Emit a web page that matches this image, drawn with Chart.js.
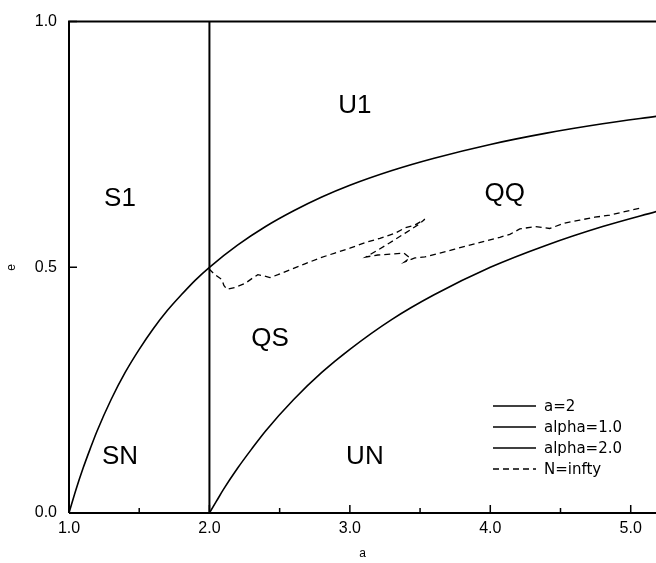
<!DOCTYPE html>
<html lang="en">
<head>
  <meta charset="UTF-8">
  <title>Phase diagram a - e</title>
  <style>
    body {
      margin: 0;
      padding: 0;
      background: #fff;
    }
    .chart-container {
      width: 656px;
      height: 563px;
    }
  </style>
</head>
<body>

<div class="chart-container">
  <canvas id="phaseChart"></canvas>
</div>

<script src="https://cdn.jsdelivr.net/npm/chart.js"></script>
<script>
  // a = 2 vertical line
  const lineA = [2.0, 2.0];
  const lineE = [0.0, 1.0];

  // alpha = 1.0 boundary
  const alpha1A = [1.0, 1.05, 1.1, 1.15, 1.2, 1.3, 1.4, 1.5, 1.6, 1.7, 1.8, 1.9, 2.0, 2.2, 2.4, 2.6, 2.8, 3.0, 3.3, 3.6, 4.0, 4.4, 4.8, 5.2];
  const alpha1E = [0, 0.048, 0.091, 0.130, 0.167, 0.231, 0.286, 0.333, 0.375, 0.412, 0.444, 0.474, 0.5, 0.545, 0.583, 0.615, 0.643, 0.667, 0.697, 0.722, 0.75, 0.773, 0.792, 0.808];

  // alpha = 2.0 boundary
  const alpha2A = [2.0, 2.05, 2.1, 2.2, 2.3, 2.4, 2.6, 2.8, 3.0, 3.3, 3.6, 4.0, 4.4, 4.8, 5.2];
  const alpha2E = [0, 0.024, 0.048, 0.091, 0.130, 0.167, 0.231, 0.286, 0.333, 0.394, 0.444, 0.5, 0.545, 0.583, 0.615];

  // N = infty (numerical, noisy)
  const infA = [1.996, 2.039, 2.089, 2.103, 2.125, 2.181, 2.253, 2.302, 2.345, 2.381, 2.431, 2.488, 2.573, 2.680, 2.786, 2.893, 3.000, 3.107, 3.214, 3.320, 3.391, 3.463, 3.534,
                3.484, 3.391, 3.285, 3.199, 3.114, 3.199, 3.299, 3.384, 3.427, 3.391, 3.463, 3.534, 3.641, 3.747, 3.854, 3.961, 4.068, 4.139, 4.210, 4.317, 4.423, 4.530, 4.637, 4.744, 4.851, 4.936, 5.064];
  const infE = [0.497, 0.485, 0.475, 0.463, 0.455, 0.459, 0.467, 0.477, 0.485, 0.483, 0.479, 0.485, 0.495, 0.507, 0.519, 0.529, 0.539, 0.550, 0.559, 0.569, 0.580, 0.586, 0.598,
                0.586, 0.569, 0.550, 0.535, 0.521, 0.525, 0.527, 0.529, 0.519, 0.511, 0.519, 0.521, 0.529, 0.537, 0.545, 0.553, 0.561, 0.567, 0.578, 0.583, 0.579, 0.590, 0.596, 0.602, 0.606, 0.612, 0.620];

  const xTicks = [1, 2, 3, 4, 5];
  const xMinor = [1.5, 2.5, 3.5, 4.5];
  const yTicks = [0, 0.5, 1];

  // region labels
  const regionNames = ['S1', 'U1', 'QQ', 'QS', 'SN', 'UN'];
  const regionA = [1.363, 3.036, 4.103, 2.431, 1.363, 3.107];
  const regionE = [0.640, 0.829, 0.650, 0.354, 0.115, 0.115];

  function pts(xs, ys) {
    return xs.map((x, i) => ({ x: x, y: ys[i] }));
  }

  const FONT = '"Liberation Sans", Arial, sans-serif';

  // frame, inward ticks, region labels and legend
  const decorPlugin = {
    id: 'decor',
    afterDraw(chart) {
      const c = chart.ctx;
      const xs = chart.scales.x, ys = chart.scales.y;
      const area = chart.chartArea;
      c.save();
      c.strokeStyle = '#000';
      c.lineWidth = 2;
      c.beginPath();
      c.moveTo(area.left, area.bottom);
      c.lineTo(area.left, area.top);
      c.lineTo(area.right, area.top);
      c.moveTo(area.left, area.bottom);
      c.lineTo(area.right, area.bottom);
      c.stroke();

      c.lineWidth = 1.5;
      c.beginPath();
      xTicks.forEach(v => {
        const px = xs.getPixelForValue(v);
        c.moveTo(px, area.bottom); c.lineTo(px, area.bottom - 8);
      });
      xMinor.forEach(v => {
        const px = xs.getPixelForValue(v);
        c.moveTo(px, area.bottom); c.lineTo(px, area.bottom - 5);
      });
      yTicks.forEach(v => {
        const py = ys.getPixelForValue(v);
        c.moveTo(area.left, py); c.lineTo(area.left + 8, py);
      });
      c.stroke();

      c.fillStyle = '#000';
      c.font = '26px ' + FONT;
      c.textAlign = 'center';
      c.textBaseline = 'middle';
      regionNames.forEach((n, i) => {
        c.fillText(n, xs.getPixelForValue(regionA[i]), ys.getPixelForValue(regionE[i]));
      });

      // legend
      c.font = '15px "DejaVu Sans", sans-serif';
      c.textAlign = 'left';
      const lx = 493, tx = 544;
      let ly = 406;
      chart.data.datasets.forEach(ds => {
        c.setLineDash(ds.borderDash || []);
        c.lineWidth = 1.5;
        c.beginPath();
        c.moveTo(lx, ly); c.lineTo(lx + 43, ly);
        c.stroke();
        c.setLineDash([]);
        c.fillText(ds.label, tx, ly + 1);
        ly += 21;
      });
      c.restore();
    }
  };

  const ctx = document.getElementById('phaseChart').getContext('2d');
  const phaseChart = new Chart(ctx, {
    type: 'scatter',
    data: {
      datasets: [
        { label: 'a=2', data: pts(lineA, lineE), borderColor: '#000', borderWidth: 2 },
        { label: 'alpha=1.0', data: pts(alpha1A, alpha1E), borderColor: '#000', borderWidth: 1.6, cubicInterpolationMode: 'monotone' },
        { label: 'alpha=2.0', data: pts(alpha2A, alpha2E), borderColor: '#000', borderWidth: 1.6, cubicInterpolationMode: 'monotone' },
        { label: 'N=infty', data: pts(infA, infE), borderColor: '#000', borderWidth: 1.3, borderDash: [6, 4] }
      ]
    },
    options: {
      responsive: true,
      maintainAspectRatio: false,
      animation: false,
      showLine: true,
      elements: { point: { radius: 0, hoverRadius: 0 } },
      layout: { padding: { top: 16, right: 0, left: 0, bottom: 0 } },
      plugins: {
        legend: { display: false },
        tooltip: { enabled: false }
      },
      scales: {
        x: {
          type: 'linear',
          min: 1,
          max: 5.18,
          afterBuildTicks: s => { s.ticks = xTicks.map(v => ({ value: v })); },
          afterFit: s => { s.height = 50; },
          grid: { display: false, drawTicks: false },
          border: { display: false },
          ticks: { color: '#000', padding: 6, font: { family: FONT, size: 16 }, callback: v => v.toFixed(1), maxRotation: 0 },
          title: { display: true, text: 'a', color: '#000', font: { family: FONT, size: 12 }, padding: 2 }
        },
        y: {
          min: 0,
          max: 1,
          afterBuildTicks: s => { s.ticks = yTicks.map(v => ({ value: v })); },
          afterFit: s => { s.width = 69; },
          grid: { display: false, drawTicks: false },
          border: { display: false },
          ticks: { color: '#000', padding: 12, font: { family: FONT, size: 16 }, callback: v => v.toFixed(1) },
          title: { display: true, text: 'e', color: '#000', font: { family: FONT, size: 12 }, padding: 4 }
        }
      }
    },
    plugins: [decorPlugin]
  });
</script>

</body>
</html>
